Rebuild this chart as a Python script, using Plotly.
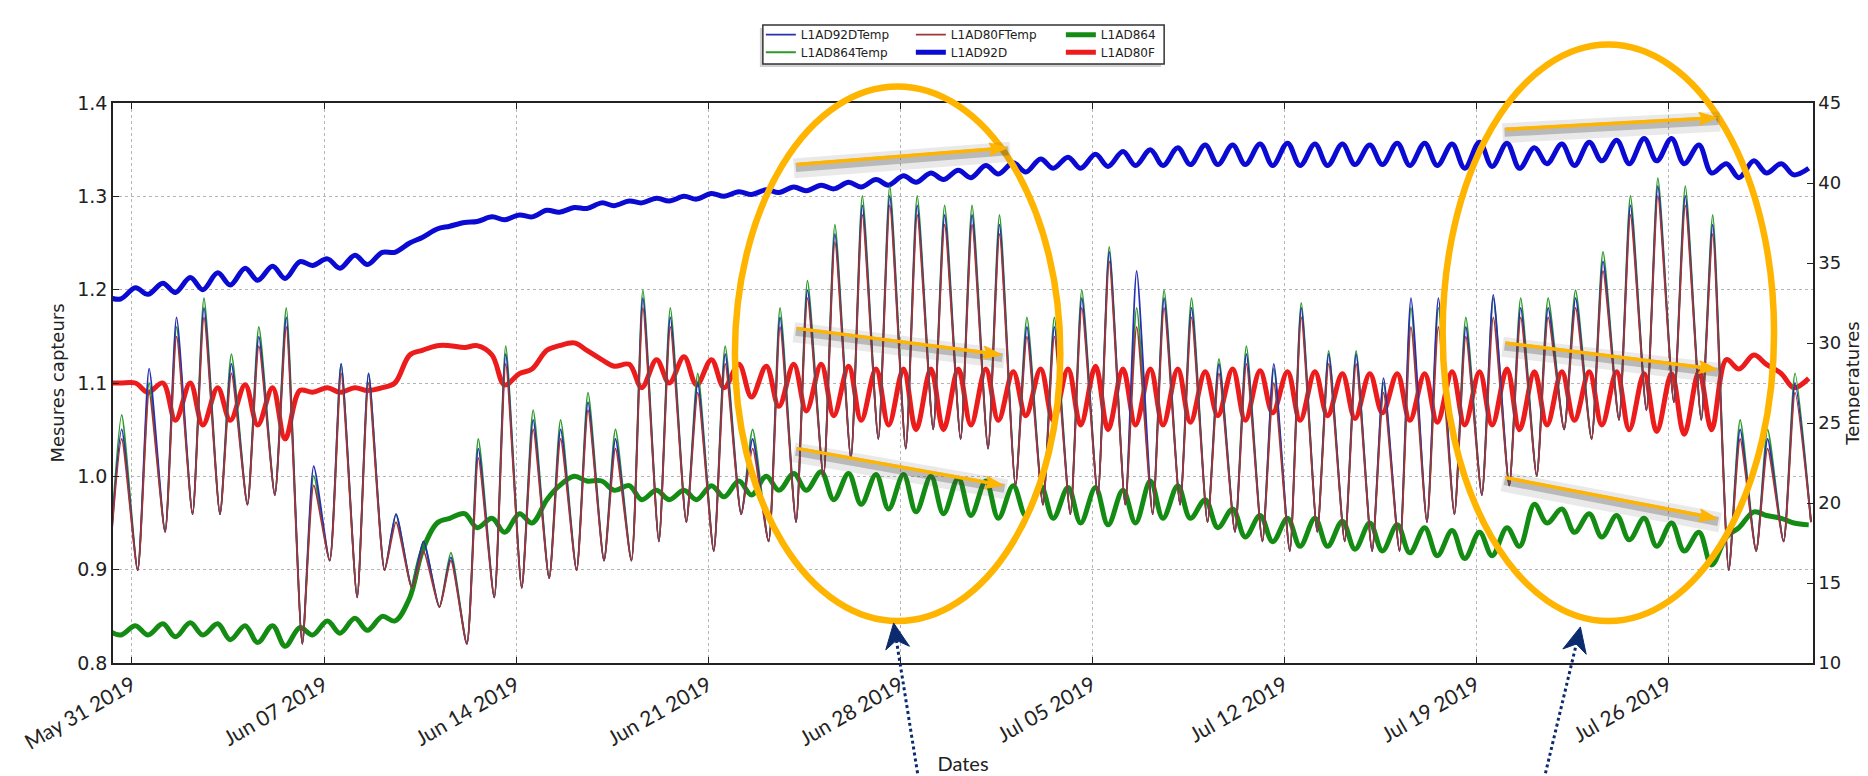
import plotly.graph_objects as go
import pandas as pd

# ---------------- data ----------------
days = pd.date_range("2019-05-30", "2019-07-31", freq="D")  # May 30 ... Jul 31

# thick sensor series: value near 03:00 (daily high) and near 14:00 (daily low)
l1ad92d_high = [1.192, 1.202, 1.207, 1.213, 1.218, 1.223, 1.225, 1.230, 1.233, 1.237,
                1.240, 1.250, 1.265, 1.272, 1.278, 1.280, 1.285, 1.288, 1.293, 1.295,
                1.298, 1.300, 1.303, 1.305, 1.307, 1.310, 1.312, 1.315, 1.318, 1.322,
                1.325, 1.328, 1.333, 1.336, 1.340, 1.342, 1.345, 1.348, 1.350, 1.352,
                1.355, 1.355, 1.356, 1.357, 1.356, 1.356, 1.355, 1.357, 1.357, 1.356,
                1.358, 1.357, 1.352, 1.356, 1.358, 1.360, 1.362, 1.362, 1.355, 1.335,
                1.338, 1.335, 1.330]
l1ad92d_low = [1.190, 1.195, 1.197, 1.200, 1.205, 1.210, 1.212, 1.226, 1.223, 1.227,
               1.240, 1.256, 1.268, 1.273, 1.275, 1.278, 1.283, 1.287, 1.290, 1.293,
               1.295, 1.297, 1.300, 1.302, 1.304, 1.306, 1.308, 1.310, 1.312, 1.315,
               1.318, 1.320, 1.324, 1.326, 1.330, 1.330, 1.332, 1.333, 1.333, 1.334,
               1.334, 1.334, 1.333, 1.333, 1.333, 1.334, 1.334, 1.333, 1.333, 1.330,
               1.332, 1.330, 1.335, 1.333, 1.338, 1.335, 1.338, 1.335, 1.325, 1.320,
               1.325, 1.323]

l1ad80f_high = [1.100, 1.100, 1.100, 1.100, 1.095, 1.098, 1.095, 1.092, 1.095, 1.095,
                1.095, 1.130, 1.140, 1.138, 1.130, 1.110, 1.135, 1.143, 1.125, 1.120,
                1.125, 1.128, 1.125, 1.120, 1.118, 1.120, 1.120, 1.118, 1.115, 1.115,
                1.115, 1.115, 1.115, 1.112, 1.115, 1.115, 1.118, 1.115, 1.115, 1.115,
                1.112, 1.115, 1.113, 1.112, 1.112, 1.110, 1.110, 1.110, 1.110, 1.112,
                1.112, 1.115, 1.112, 1.112, 1.112, 1.112, 1.110, 1.110, 1.112, 1.125,
                1.130, 1.110, 1.105]
l1ad80f_low = [1.100, 1.090, 1.060, 1.055, 1.060, 1.055, 1.040, 1.090, 1.090, 1.092,
               1.100, 1.135, 1.140, 1.140, 1.098, 1.115, 1.140, 1.135, 1.118, 1.095,
               1.100, 1.098, 1.095, 1.085, 1.075, 1.070, 1.065, 1.060, 1.055, 1.050,
               1.050, 1.055, 1.060, 1.065, 1.060, 1.055, 1.050, 1.055, 1.055, 1.058,
               1.065, 1.060, 1.068, 1.060, 1.065, 1.062, 1.068, 1.060, 1.058, 1.055,
               1.055, 1.050, 1.055, 1.060, 1.055, 1.050, 1.048, 1.045, 1.050, 1.115,
               1.120, 1.095]

l1ad864_high = [0.835, 0.840, 0.842, 0.843, 0.842, 0.840, 0.840, 0.838, 0.845, 0.848,
                0.850, 0.870, 0.950, 0.960, 0.955, 0.960, 0.975, 1.000, 0.995, 0.990,
                0.985, 0.985, 0.990, 0.995, 1.000, 1.003, 1.005, 1.003, 1.002, 1.002,
                1.000, 0.998, 0.995, 0.990, 0.990, 0.988, 0.988, 0.985, 0.995, 0.990,
                0.975, 0.965, 0.958, 0.955, 0.955, 0.952, 0.950, 0.948, 0.945, 0.942,
                0.940, 0.945, 0.970, 0.965, 0.960, 0.958, 0.955, 0.950, 0.940, 0.935,
                0.962, 0.955, 0.948]
l1ad864_low = [0.830, 0.830, 0.828, 0.830, 0.825, 0.822, 0.818, 0.830, 0.832, 0.835,
               0.845, 0.920, 0.955, 0.945, 0.940, 0.950, 0.990, 0.995, 0.985, 0.975,
               0.975, 0.975, 0.978, 0.980, 0.985, 0.985, 0.975, 0.970, 0.965, 0.962,
               0.960, 0.958, 0.955, 0.958, 0.955, 0.950, 0.948, 0.950, 0.955, 0.955,
               0.945, 0.935, 0.930, 0.925, 0.925, 0.922, 0.920, 0.918, 0.915, 0.912,
               0.915, 0.925, 0.950, 0.940, 0.935, 0.932, 0.925, 0.920, 0.905, 0.945,
               0.958, 0.950]

# temperatures (deg C): daily minimum near 05:00, daily maximum near 15:00
temp_min = [17.0, 15.8, 18.2, 19.3, 19.3, 19.9, 20.5, 11.2, 16.4, 14.1,
            15.8, 14.7, 13.5, 11.2, 14.1, 14.7, 15.3, 15.8, 16.4, 16.4,
            17.6, 18.8, 17.0, 19.3, 17.6, 18.8, 21.7, 22.8, 24.0, 23.4,
            24.6, 24.0, 23.4, 21.1, 19.9, 19.3, 20.5, 19.9, 19.3, 19.9,
            18.8, 18.2, 17.6, 17.0, 18.2, 17.6, 17.0, 17.0, 18.8, 19.3,
            20.5, 21.1, 21.7, 24.6, 24.0, 25.2, 25.8, 26.3, 25.2, 15.8,
            17.0, 17.6, 18.8]
temp80f_max = [24.0, 26.9, 30.4, 31.6, 28.1, 29.8, 31.0, 21.1, 28.1, 27.5,
               18.8, 17.0, 16.4, 22.8, 28.7, 24.6, 24.0, 25.8, 23.4, 32.2,
               31.0, 26.9, 28.7, 23.4, 31.0, 32.8, 36.3, 38.0, 38.6, 38.0,
               37.4, 37.4, 36.8, 30.4, 30.4, 32.2, 35.1, 31.0, 32.2, 31.6,
               28.1, 28.7, 27.5, 31.6, 28.7, 28.7, 26.9, 31.0, 31.0, 30.4,
               31.6, 31.6, 31.6, 32.2, 34.5, 38.0, 39.2, 38.6, 36.8, 24.0,
               23.4, 26.9]
temp864_max = [25.5, 27.5, 31.0, 32.8, 29.3, 31.0, 32.2, 21.7, 28.7, 28.1,
               19.3, 17.6, 16.9, 24.0, 29.8, 25.8, 25.2, 26.9, 24.6, 33.3,
               32.2, 28.1, 29.8, 24.6, 32.2, 33.9, 37.4, 39.2, 39.8, 39.2,
               38.6, 38.6, 38.0, 31.6, 31.6, 33.3, 36.0, 32.2, 33.3, 32.8,
               29.0, 29.8, 28.4, 32.5, 29.5, 29.5, 27.5, 32.2, 32.2, 31.6,
               32.8, 32.8, 32.8, 33.3, 35.7, 39.2, 40.3, 39.8, 38.0, 25.2,
               24.6, 28.1]
temp92d_max = [24.6, 28.4, 31.6, 32.2, 28.7, 30.4, 31.6, 22.3, 28.7, 28.1,
               19.3, 17.6, 16.6, 23.4, 29.3, 25.2, 24.6, 26.3, 24.0, 32.8,
               31.6, 27.5, 29.3, 24.0, 31.6, 33.3, 36.8, 38.6, 39.2, 38.6,
               38.0, 38.0, 37.4, 31.0, 31.0, 32.8, 35.7, 34.5, 32.8, 32.2,
               28.7, 29.3, 28.7, 32.2, 29.3, 29.3, 27.8, 32.8, 32.8, 31.0,
               33.0, 32.2, 32.2, 32.8, 35.1, 38.6, 39.8, 39.2, 37.4, 24.6,
               24.0, 27.5]

# ---------------- helpers ----------------
W, H = 1868, 776
L, R, T, B = 102, 1805, 89, 663


def px(x):
    return (x - L) / (R - L)


def py(y):
    return (B - y) / (B - T)


def daily_series(first_vals, first_hour, second_vals, second_hour):
    xs, ys = [], []
    for i, d in enumerate(days):
        if i < len(first_vals):
            xs.append(d + pd.Timedelta(hours=first_hour))
            ys.append(first_vals[i])
        if i < len(second_vals):
            xs.append(d + pd.Timedelta(hours=second_hour))
            ys.append(second_vals[i])
    return xs, ys


C92D, C864, C80F = "#0a0ad2", "#148c14", "#ec1c1c"
T92D, T864, T80F = "#2630b4", "#2a9a2a", "#a03636"

fig = go.Figure()

thick = [("L1AD92D", l1ad92d_high, l1ad92d_low, C92D, "legend2", 2),
         ("L1AD864", l1ad864_high, l1ad864_low, C864, "legend", 3),
         ("L1AD80F", l1ad80f_high, l1ad80f_low, C80F, "legend2", 3)]
for name, hi, lo, col, leg, rank in thick:
    x, y = daily_series(hi, 3, lo, 14)
    fig.add_trace(go.Scatter(x=x, y=y, mode="lines", name=name, legend=leg, legendrank=rank,
                             line=dict(color=col, width=5, shape="spline", smoothing=1.0),
                             yaxis="y"))

thin = [("L1AD864Temp", temp864_max, T864, "legend2", 1),
        ("L1AD92DTemp", temp92d_max, T92D, "legend", 1),
        ("L1AD80FTemp", temp80f_max, T80F, "legend", 2)]
for name, mx, col, leg, rank in thin:
    x, y = daily_series(temp_min, 5, mx, 15)
    fig.add_trace(go.Scatter(x=x, y=y, mode="lines", name=name, legend=leg, legendrank=rank,
                             line=dict(color=col, width=1.8, shape="spline", smoothing=0.6),
                             yaxis="y2"))

# ---------------- annotation graphics (pixel positions) ----------------
shapes = []
ORANGE = "#FFB400"
NAVY = "#0c2a6e"


def line_shape(p0, p1, color, width, dash="solid"):
    return dict(type="line", xref="paper", yref="paper",
                x0=px(p0[0]), y0=py(p0[1]), x1=px(p1[0]), y1=py(p1[1]),
                line=dict(color=color, width=width, dash=dash), layer="above")


def head(tail, tip, length, width, notch):
    dx, dy = tip[0] - tail[0], tip[1] - tail[1]
    n = (dx * dx + dy * dy) ** 0.5
    ux, uy = dx / n, dy / n
    nx, ny = -uy, ux
    bx, by = tip[0] - ux * length, tip[1] - uy * length
    p1 = (bx + nx * width / 2, by + ny * width / 2)
    p2 = (tip[0] - ux * (length - notch), tip[1] - uy * (length - notch))
    p3 = (bx - nx * width / 2, by - ny * width / 2)
    return p1, p2, p3


def path_shape(pts, color):
    s = "M " + " L ".join(f"{px(a):.5f},{py(b):.5f}" for a, b in pts) + " Z"
    return dict(type="path", xref="paper", yref="paper", path=s,
                fillcolor=color, line=dict(color=color, width=1), layer="above")


# legend frame with light shadow
shapes.append(dict(type="rect", xref="paper", yref="paper",
                   x0=px(750), x1=px(1152), y0=py(52), y1=py(12),
                   fillcolor="rgba(0,0,0,0.18)", line=dict(width=0), layer="above"))
shapes.append(dict(type="rect", xref="paper", yref="paper",
                   x0=px(753), x1=px(1155), y0=py(49), y1=py(9),
                   fillcolor="white", line=dict(color="#333333", width=1.5), layer="above"))

# highlight ellipses
for x0, x1, y0, y1 in [(725, 1051, 72, 620), (1434, 1766, 29, 620)]:
    shapes.append(dict(type="circle", xref="paper", yref="paper",
                       x0=px(x0), x1=px(x1), y0=py(y1), y1=py(y0),
                       line=dict(color=ORANGE, width=6.5), layer="above"))

# orange trend arrows with grey shadow
orange_arrows = [((787, 152), (998, 135)), ((787, 320), (992, 347)), ((787, 443), (994, 481)),
                 ((1497, 116), (1709, 104)), ((1497, 335), (1709, 362)), ((1497, 473), (1709, 515))]
for tail, tip in orange_arrows:
    shapes.append(line_shape((tail[0] - 3, tail[1] + 4), (tip[0] + 3, tip[1] + 4),
                             "rgba(70,70,70,0.12)", 20))
    shapes.append(line_shape((tail[0] - 1, tail[1] + 3), (tip[0] + 1, tip[1] + 3),
                             "rgba(60,60,60,0.28)", 9))
    p1, p2, p3 = head(tail, tip, 18, 13, 3)
    shapes.append(line_shape(tail, p2, ORANGE, 3.5))
    shapes.append(path_shape([tip, p1, p2, p3], ORANGE))

# dotted navy pointers
for tail, tip in [((908, 776), (884, 622)), ((1537, 776), (1572, 626))]:
    p1, p2, p3 = head(tail, tip, 26, 24, 8)
    shapes.append(line_shape(tail, p2, NAVY, 3, dash="dot"))
    shapes.append(path_shape([tip, p1, p2, p3], NAVY))

AX = "#222222"
legend_common = dict(orientation="h", xanchor="left", yanchor="middle",
                     bgcolor="rgba(0,0,0,0)", borderwidth=0,
                     font=dict(family="DejaVu Sans", size=12, color="#222"),
                     entrywidth=105, entrywidthmode="pixels", itemwidth=30)

fig.update_layout(
    width=W, height=H,
    margin=dict(l=L, r=W - R, t=T, b=H - B),
    plot_bgcolor="white", paper_bgcolor="white",
    font=dict(family="DejaVu Sans", size=18, color=AX),
    showlegend=True,
    legend=dict(x=px(751), y=py(19), **legend_common),
    legend2=dict(x=px(751), y=py(37), **legend_common),
    shapes=shapes,
    xaxis=dict(type="date", range=["2019-05-30 07:24", "2019-07-31 06:44"],
               tick0="2019-05-31", dtick=7 * 86400000, tickformat="%b %d %Y",
               tickangle=-30, tickfont=dict(family="Lato", size=21, color=AX),
               ticks="inside", ticklen=6, tickcolor=AX, mirror="ticks",
               showline=True, linecolor=AX, linewidth=1.5,
               showgrid=True, gridcolor="#b5b5b5", griddash="dot", gridwidth=1,
               zeroline=False,
               title=dict(text="Dates", font=dict(family="Lato", size=20, color=AX), standoff=4)),
    yaxis=dict(range=[0.8, 1.4], dtick=0.1, tickformat=".1f",
               ticks="inside", ticklen=6, tickcolor=AX,
               showline=True, linecolor=AX, linewidth=1.5,
               showgrid=True, gridcolor="#b5b5b5", griddash="dot", gridwidth=1,
               zeroline=False, tickfont=dict(size=19),
               title=dict(text="Mesures capteurs", font=dict(size=18), standoff=8)),
    yaxis2=dict(range=[10, 45], dtick=5, overlaying="y", side="right",
                ticks="inside", ticklen=6, tickcolor=AX,
                showline=True, linecolor=AX, linewidth=1.5,
                showgrid=False, zeroline=False, tickfont=dict(size=18),
                title=dict(text="Temperatures", font=dict(size=18), standoff=6)),
)

fig.write_html("out.html")
